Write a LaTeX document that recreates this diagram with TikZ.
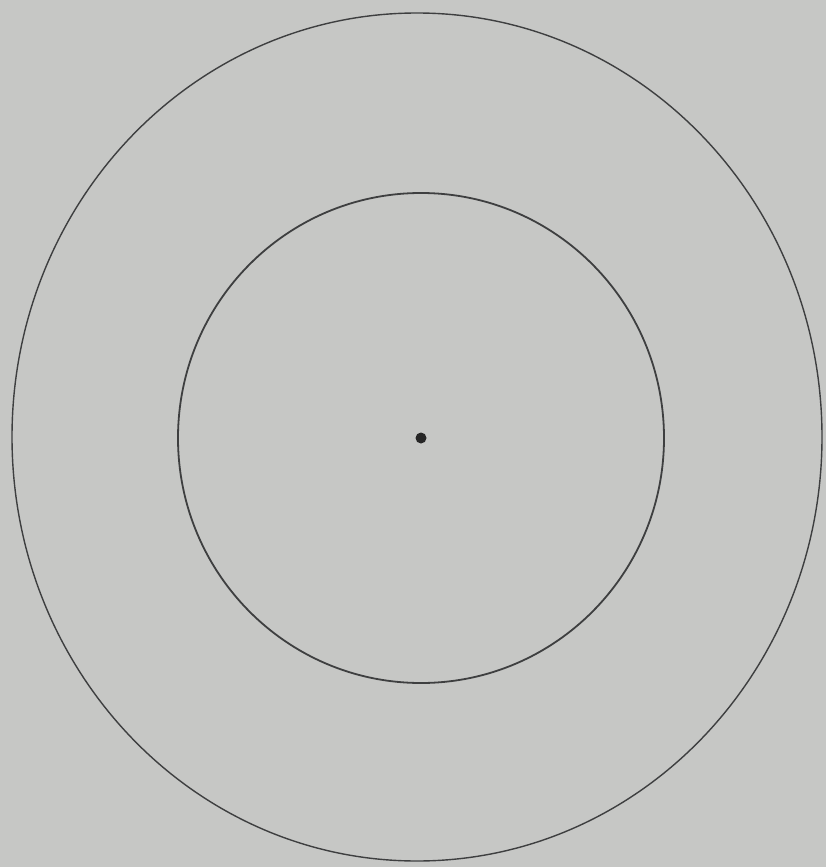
\documentclass[tikz,border=0pt]{standalone}
\usepackage{xcolor}
\usepackage{tikz}
\definecolor{paper}{HTML}{C6C7C5}
\definecolor{ink}{HTML}{3E3F40}

\begin{document}
\begin{tikzpicture}[x=1pt,y=-1pt,
  ring/.style={draw=ink,line width=1.4pt},
  centre/.style={circle,fill=black!85,inner sep=0pt,minimum size=11pt}]
\fill[paper] (0,0) rectangle (826,867);
\useasboundingbox (0,0) rectangle (826,867);
\coordinate (o) at (417,437);
\node[centre] (dot) at (421,438) {};
\draw[ring] (o) ellipse [x radius=405,y radius=424];
\draw[ring,line width=1.8pt] (dot.center) ellipse [x radius=243,y radius=245];
\end{tikzpicture}
\end{document}
